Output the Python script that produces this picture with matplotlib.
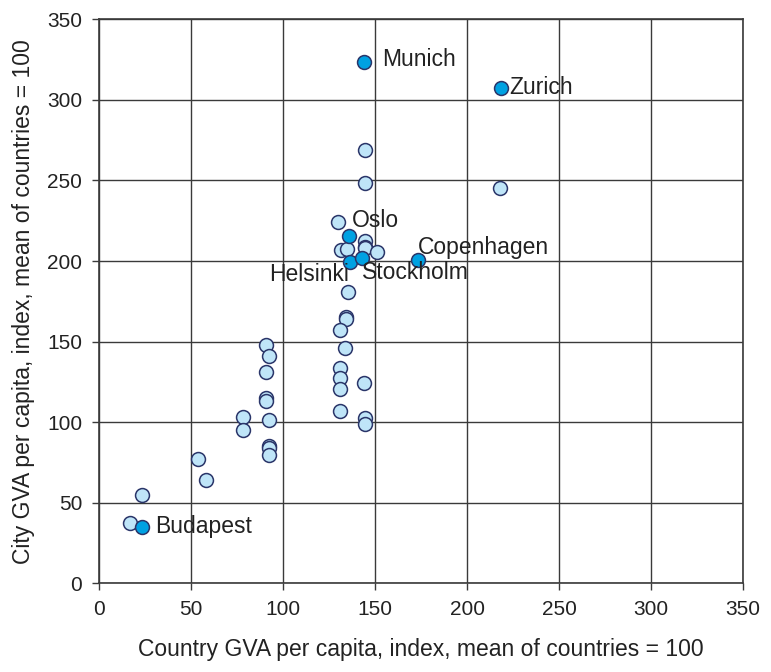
"""City vs country GVA per capita scatter."""

import matplotlib.pyplot as plt

plt.rcParams["font.family"] = ["Liberation Sans", "DejaVu Sans"]

# other cities (light markers)
other_x = [130.1, 144.6, 144.6, 131.3, 135.0, 144.6, 150.9, 135.5, 144.6, 144.6,
           217.9, 134.1, 134.5, 131.0, 133.7, 131.0, 131.0, 131.0, 144.2, 131.0,
           144.6, 144.6, 90.8, 92.6, 90.8, 90.8, 90.8, 78.1, 78.1, 92.6,
           92.6, 92.6, 92.6, 53.6, 58.2, 23.2, 16.8]
other_y = [224.5, 212.7, 208.5, 206.9, 207.3, 208.0, 205.5, 181.0, 268.9, 248.7,
           245.6, 165.5, 164.0, 157.2, 145.9, 133.8, 127.2, 120.4, 124.5, 107.1,
           102.4, 98.9, 147.9, 141.1, 131.4, 115.2, 113.4, 103.0, 95.2, 101.4,
           85.2, 84.0, 79.6, 77.2, 64.1, 54.8, 37.2]

# named cities (dark markers)
named = ["Munich", "Zurich", "Oslo", "Copenhagen", "Helsinki", "Stockholm", "Budapest"]
named_x = [144.2, 218.3, 135.9, 173.2, 136.4, 142.8, 23.5]
named_y = [323.4, 307.6, 215.8, 200.7, 199.6, 202.1, 35.1]

ticks = [0, 50, 100, 150, 200, 250, 300, 350]

# label placement: offset in points, horizontal alignment
label_style = {
    "Munich": ((13, 2), "left"),
    "Zurich": ((6, 0), "left"),
    "Oslo": ((2, 11), "left"),
    "Copenhagen": ((0, 9), "left"),
    "Helsinki": ((-1, -9.5), "right"),
    "Stockholm": ((0, -10.5), "left"),
    "Budapest": ((9.5, 0), "left"),
}

LIGHT = "#bfe5f8"
DARK = "#00a1e2"
EDGE = "#2a3569"
GRID = "#3a3a3a"

fig = plt.figure(figsize=(7.71, 6.72), dpi=100)
ax = fig.add_axes([0.1284, 0.132, 0.8353, 0.8393])

ax.scatter(other_x, other_y, s=100, facecolor=LIGHT, edgecolor=EDGE,
           linewidth=1.1, zorder=3)
ax.scatter(named_x, named_y, s=100, facecolor=DARK, edgecolor=EDGE,
           linewidth=1.1, zorder=4)

for name, x, y in zip(named, named_x, named_y):
    off, ha = label_style[name]
    ax.annotate(name, (x, y), xytext=off, textcoords="offset points",
                ha=ha, va="center", fontsize=16.5, color="#222222", zorder=5)

ax.set_xlim(0, 350)
ax.set_ylim(0, 350)
ax.set_xticks(ticks)
ax.set_yticks(ticks)
ax.grid(True, color=GRID, linewidth=1.0, zorder=0)
ax.set_axisbelow(True)
for sp in ax.spines.values():
    sp.set_color(GRID)
    sp.set_linewidth(1.2)
ax.tick_params(direction="out", length=5, width=1, color=GRID,
               labelsize=15, labelcolor="#222222", pad=7)

ax.set_xlabel("Country GVA per capita, index, mean of countries = 100",
              fontsize=16.5, color="#222222", labelpad=14)
ax.set_ylabel("City GVA per capita, index, mean of countries = 100",
              fontsize=16.5, color="#222222", labelpad=9)

fig.savefig("out.png", dpi=100, facecolor="white")
